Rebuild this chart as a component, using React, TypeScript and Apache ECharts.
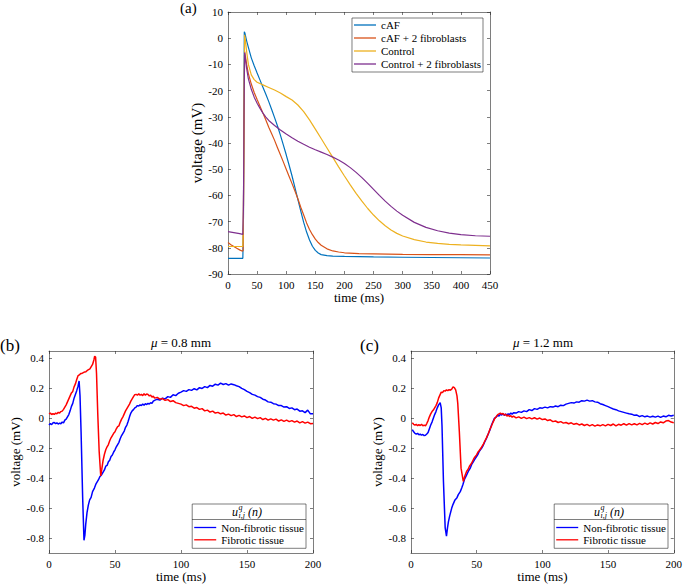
import React, { useEffect, useRef } from "react";
import * as echarts from "echarts";

const FONT = "Liberation Serif";
const AXC = "#262626";
const LEG_ICON = "path://M0,0 L22,0 L22,1.3 L0,1.3 Z";

// ---------- panel (a): action potentials ----------
const apNames = ["cAF", "cAF + 2 fibroblasts", "Control", "Control + 2 fibroblasts"];
const apColors = ["#0072BD", "#D95319", "#EDB120", "#7E2F8E"];

const cAF: [number, number][] = [
  [0, -84], [10, -84], [20, -84], [25.5, -84], [26.5, -70], [27.3, -30], [28, 2.5], [29, 2], [30, 1], [32, -1], [35, -3.5],
  [40, -7.5], [45, -10.5], [50, -13.3], [55, -16], [60, -18.7], [65, -21.4], [70, -24.2], [75, -27.2], [80, -30.3],
  [85, -33.5], [90, -37], [95, -40.7], [100, -44.5], [105, -48.5], [110, -52.6], [115, -57], [120, -61.5], [125, -66],
  [130, -70.3], [135, -74], [140, -77], [145, -79.4], [150, -81], [155, -82], [160, -82.6], [170, -83], [180, -83.2],
  [200, -83.3], [250, -83.5], [300, -83.6], [350, -83.7], [400, -83.8], [450, -83.9],
];
const cAF2fib: [number, number][] = [
  [0, -78], [5, -78.8], [10, -79.5], [15, -80.2], [20, -80.8], [25, -81.3], [26, -81], [27, -50], [28.5, -5], [30, -7],
  [32, -10], [35, -13.5], [40, -17.5], [45, -20.7], [50, -23.4], [55, -26], [60, -28.6], [65, -31.2], [70, -34],
  [75, -36.5], [80, -39], [85, -41.8], [90, -44.5], [95, -47.2], [100, -50], [105, -52.8], [110, -55.5], [115, -58.3],
  [120, -61.3], [125, -64.5], [130, -67.5], [135, -70.5], [140, -73], [145, -75], [150, -76.7], [155, -78], [160, -79],
  [170, -80.4], [180, -81.2], [190, -81.6], [200, -81.9], [225, -82.2], [250, -82.3], [300, -82.5], [350, -82.6],
  [400, -82.6], [450, -82.7],
];
const control: [number, number][] = [
  [0, -79.5], [10, -79.5], [20, -79.5], [25.5, -79.5], [26.5, -70], [27.5, -30], [28.5, 1.3], [30, -1], [32, -5],
  [35, -10], [40, -14], [45, -15.8], [50, -16.8], [60, -17.8], [70, -18.8], [80, -19.8], [90, -20.9], [100, -22.3],
  [110, -23.6], [120, -25.5], [130, -28], [140, -31.2], [150, -34.7], [160, -38.3], [170, -41.9], [180, -45.5],
  [190, -49.1], [200, -52.6], [210, -56], [220, -59.2], [230, -62.2], [240, -65], [250, -67.5], [260, -69.7],
  [270, -71.6], [280, -73.2], [290, -74.5], [300, -75.5], [320, -76.9], [340, -77.8], [360, -78.3], [380, -78.7],
  [400, -78.9], [425, -79.1], [450, -79.3],
];
const control2fib: [number, number][] = [
  [0, -73.8], [10, -74.2], [20, -74.6], [25.5, -74.9], [26.5, -65], [27.5, -30], [28.5, -5.5], [30, -8], [32, -11.5],
  [35, -15.5], [40, -19.5], [45, -22.5], [50, -24.8], [55, -26.8], [60, -28.6], [65, -30.1], [70, -31.4], [80, -33.3],
  [90, -35], [100, -36.6], [110, -38], [120, -39.3], [130, -40.5], [140, -41.6], [150, -42.6], [160, -43.5],
  [170, -44.4], [180, -45.4], [190, -46.5], [200, -47.8], [210, -49.4], [220, -51.2], [230, -53.2], [240, -55.4],
  [250, -57.7], [260, -60], [270, -62.2], [280, -64.2], [290, -66], [300, -67.6], [320, -70.3], [340, -72.2],
  [360, -73.5], [380, -74.4], [400, -75], [425, -75.4], [450, -75.6],
];
const apSeries = [cAF, cAF2fib, control, control2fib];

// ---------- panels (b), (c): electrograms ----------
const egNames = ["Non-fibrotic tissue", "Fibrotic tissue"];
const egColors = ["#0000FF", "#FF0000"];
const yTicksEG = [-0.8, -0.6, -0.4, -0.2, 0, 0.2, 0.4];

const bNonFib: [number, number][] = [
  [0, -0.045], [1, -0.035], [2, -0.042], [3, -0.03], [4, -0.028], [5, -0.036], [6, -0.03], [7, -0.038], [8, -0.032],
  [9, -0.036], [10, -0.025], [11, -0.03], [12, -0.012], [13, -0.005], [14, 0.01], [15, 0.025], [16, 0.05], [17, 0.08],
  [18, 0.1], [19, 0.135], [20, 0.16], [21, 0.185], [22, 0.215], [22.8, 0.25], [23.5, 0.15], [24.3, -0.09],
  [25.5, -0.53], [26.5, -0.815], [27.2, -0.78], [27.8, -0.71], [28.8, -0.63], [29.8, -0.58], [30.8, -0.545],
  [31.9, -0.528], [33, -0.49], [34.4, -0.466], [35.5, -0.44], [36.5, -0.425], [37.5, -0.41], [38.5, -0.39],
  [39.9, -0.377], [41, -0.36], [42, -0.345], [43, -0.32], [44, -0.315], [45, -0.29], [46, -0.28], [47, -0.255],
  [48, -0.245], [49, -0.225], [50, -0.21], [51, -0.19], [52, -0.175], [53, -0.16], [54, -0.135], [55, -0.115],
  [56, -0.1], [57, -0.085], [58, -0.06], [59, -0.045], [60, -0.02], [61, 0.01], [62, 0.035], [63, 0.05], [64, 0.058],
  [65, 0.07], [66, 0.075], [67, 0.085], [68, 0.082], [69, 0.09], [70, 0.085], [71, 0.095], [72, 0.088], [73, 0.098],
  [74, 0.092], [75, 0.1], [76, 0.095], [77, 0.105], [78, 0.1], [79, 0.115], [80, 0.12], [82, 0.128], [84, 0.122],
  [86, 0.135], [88, 0.13], [90, 0.145], [92, 0.14], [94, 0.158], [96, 0.152], [98, 0.168], [100, 0.175], [102, 0.185],
  [104, 0.18], [106, 0.192], [108, 0.187], [110, 0.198], [112, 0.19], [114, 0.205], [116, 0.2], [118, 0.212],
  [120, 0.205], [122, 0.22], [124, 0.215], [126, 0.228], [128, 0.222], [130, 0.235], [132, 0.226], [134, 0.232],
  [136, 0.222], [138, 0.23], [140, 0.225], [142, 0.218], [144, 0.212], [146, 0.2], [148, 0.192], [150, 0.18],
  [152, 0.172], [154, 0.16], [156, 0.155], [158, 0.145], [160, 0.14], [162, 0.128], [164, 0.122], [166, 0.11],
  [168, 0.108], [170, 0.098], [172, 0.095], [174, 0.085], [176, 0.085], [178, 0.075], [180, 0.078], [182, 0.066],
  [184, 0.07], [186, 0.058], [188, 0.062], [190, 0.048], [192, 0.05], [194, 0.038], [196, 0.055], [198, 0.03],
  [200, 0.03],
];
const bFib: [number, number][] = [
  [0, 0.03], [1, 0.035], [2, 0.025], [3, 0.032], [4, 0.026], [5, 0.035], [6, 0.03], [7, 0.04], [8, 0.035], [9, 0.045],
  [10, 0.048], [11, 0.06], [12, 0.075], [13, 0.09], [14, 0.11], [15, 0.13], [16, 0.15], [17, 0.17], [18, 0.18],
  [19, 0.21], [20, 0.23], [21, 0.26], [22, 0.285], [23, 0.29], [24, 0.3], [25, 0.3], [26, 0.305], [27, 0.31],
  [28, 0.312], [29, 0.32], [30, 0.325], [31, 0.33], [32, 0.345], [33, 0.36], [34, 0.39], [34.6, 0.415], [35.3, 0.41],
  [36, 0.3], [36.9, 0.04], [38, -0.22], [39.2, -0.385], [40, -0.34], [41, -0.28], [42, -0.24], [43, -0.21],
  [44, -0.19], [45, -0.175], [46, -0.15], [47, -0.13], [48, -0.115], [49, -0.1], [50, -0.09], [51, -0.07],
  [52, -0.055], [53, -0.05], [54, -0.025], [55, -0.005], [56, 0.01], [57, 0.03], [58, 0.05], [59, 0.065], [60, 0.08],
  [61, 0.095], [62, 0.115], [63, 0.13], [64, 0.145], [65, 0.158], [66, 0.16], [67, 0.155], [68, 0.165], [69, 0.155],
  [70, 0.16], [71, 0.152], [72, 0.165], [73, 0.155], [74, 0.163], [75, 0.16], [76, 0.15], [77, 0.155], [78, 0.142],
  [79, 0.148], [80, 0.135], [82, 0.14], [84, 0.128], [86, 0.132], [88, 0.12], [90, 0.125], [92, 0.112], [94, 0.118],
  [96, 0.105], [98, 0.1], [100, 0.095], [102, 0.085], [104, 0.09], [106, 0.078], [108, 0.08], [110, 0.068],
  [112, 0.072], [114, 0.06], [116, 0.065], [118, 0.05], [120, 0.055], [122, 0.042], [124, 0.048], [126, 0.035],
  [128, 0.04], [130, 0.03], [132, 0.035], [134, 0.022], [136, 0.028], [138, 0.018], [140, 0.025], [142, 0.012],
  [144, 0.02], [146, 0.01], [148, 0.016], [150, 0.005], [152, 0.012], [154, 0.0], [156, 0.008], [158, -0.002],
  [160, 0.005], [162, -0.008], [164, 0.0], [166, -0.012], [168, -0.004], [170, -0.012], [172, -0.005], [174, -0.018],
  [176, -0.01], [178, -0.02], [180, -0.012], [182, -0.022], [184, -0.015], [186, -0.025], [188, -0.018], [190, -0.03],
  [192, -0.022], [194, -0.032], [196, -0.025], [198, -0.036], [200, -0.034],
];
const cNonFib: [number, number][] = [
  [1, -0.075], [2, -0.09], [3, -0.1], [4, -0.105], [5, -0.1], [6, -0.11], [7, -0.105], [8, -0.112], [9, -0.108],
  [10, -0.115], [11, -0.113], [12, -0.105], [13, -0.095], [14, -0.07], [15, -0.045], [16, -0.025], [17, 0.0],
  [18, 0.025], [19, 0.045], [20, 0.07], [21, 0.09], [22.2, 0.105], [23, 0.07], [23.6, -0.05], [24.7, -0.42],
  [26, -0.73], [27, -0.787], [27.8, -0.73], [28.5, -0.69], [29.5, -0.65], [31, -0.6], [32, -0.575], [33.5, -0.545],
  [35, -0.53], [36, -0.51], [37.5, -0.49], [38.6, -0.466], [39.6, -0.44], [40.6, -0.41], [42, -0.385], [43.6, -0.355],
  [45, -0.335], [46.1, -0.31], [47.5, -0.29], [48.5, -0.275], [49.9, -0.255], [51, -0.24], [52, -0.22], [53.7, -0.2],
  [55, -0.18], [56, -0.16], [57.5, -0.133], [59, -0.1], [60, -0.08], [61.3, -0.045], [62.5, -0.02], [63.5, 0.0],
  [65, 0.01], [66, 0.02], [67, 0.015], [68, 0.028], [69, 0.022], [70, 0.03], [71, 0.02], [72, 0.028], [73, 0.02],
  [74, 0.03], [75, 0.025], [76, 0.035], [77, 0.028], [78, 0.038], [80, 0.035], [82, 0.045], [84, 0.04], [86, 0.05],
  [88, 0.045], [90, 0.058], [92, 0.052], [94, 0.065], [96, 0.06], [98, 0.07], [100, 0.068], [102, 0.075], [104, 0.07],
  [106, 0.078], [108, 0.075], [110, 0.082], [112, 0.078], [114, 0.088], [116, 0.085], [118, 0.095], [120, 0.1],
  [122, 0.105], [124, 0.102], [126, 0.11], [128, 0.108], [130, 0.118], [132, 0.115], [134, 0.122], [136, 0.115],
  [138, 0.118], [140, 0.11], [142, 0.108], [144, 0.098], [146, 0.092], [148, 0.085], [150, 0.078], [152, 0.07],
  [154, 0.062], [156, 0.058], [158, 0.05], [160, 0.045], [162, 0.04], [164, 0.035], [166, 0.03], [168, 0.028],
  [170, 0.02], [172, 0.022], [174, 0.012], [176, 0.018], [178, 0.01], [180, 0.015], [182, 0.008], [184, 0.014],
  [186, 0.008], [188, 0.015], [190, 0.006], [192, 0.015], [194, 0.01], [196, 0.02], [198, 0.015], [200, 0.02],
];
const cFib: [number, number][] = [
  [1, -0.03], [2, -0.04], [3, -0.045], [4, -0.04], [5, -0.05], [6, -0.042], [7, -0.048], [8, -0.04], [9, -0.05],
  [10, -0.045], [11, -0.05], [12, -0.035], [13, -0.015], [14, 0.01], [15, 0.03], [16, 0.045], [17, 0.055], [18, 0.07],
  [19, 0.085], [20, 0.105], [21, 0.135], [22, 0.155], [23, 0.175], [24, 0.172], [25, 0.185], [26, 0.182], [27, 0.19],
  [28, 0.185], [29, 0.192], [30, 0.188], [31, 0.195], [32, 0.21], [33, 0.205], [34, 0.19], [35, 0.15], [35.6, 0.1],
  [36.8, -0.09], [38.1, -0.333], [39.8, -0.422], [41, -0.385], [42.3, -0.355], [43.5, -0.34], [44.5, -0.32],
  [46.1, -0.3], [47.5, -0.275], [48.5, -0.26], [49.9, -0.244], [51, -0.225], [52, -0.215], [53.7, -0.193],
  [55, -0.175], [56, -0.155], [57.5, -0.129], [59, -0.1], [60, -0.075], [61.3, -0.05], [62.5, -0.025], [63.5, -0.005],
  [65, 0.012], [66, 0.025], [67, 0.03], [68, 0.035], [69, 0.028], [70, 0.033], [71, 0.022], [72, 0.028], [73, 0.015],
  [74, 0.022], [75, 0.012], [76, 0.018], [77, 0.008], [78, 0.015], [80, 0.003], [82, 0.01], [84, 0.0], [86, 0.008],
  [88, -0.002], [90, 0.005], [92, -0.004], [94, 0.004], [96, -0.005], [98, 0.002], [100, -0.008], [102, -0.004],
  [104, -0.015], [106, -0.01], [108, -0.022], [110, -0.018], [112, -0.028], [114, -0.022], [116, -0.032],
  [118, -0.028], [120, -0.036], [122, -0.03], [124, -0.04], [126, -0.034], [128, -0.044], [130, -0.038],
  [132, -0.048], [134, -0.04], [136, -0.05], [138, -0.042], [140, -0.052], [142, -0.044], [144, -0.05], [146, -0.042],
  [148, -0.05], [150, -0.04], [152, -0.048], [154, -0.038], [156, -0.05], [158, -0.04], [160, -0.046], [162, -0.036],
  [164, -0.045], [166, -0.035], [168, -0.044], [170, -0.036], [172, -0.044], [174, -0.034], [176, -0.042],
  [178, -0.032], [180, -0.04], [182, -0.03], [184, -0.038], [186, -0.028], [188, -0.035], [190, -0.024], [192, -0.03],
  [194, -0.018], [196, -0.015], [198, -0.025], [200, -0.03],
];

const panelTitles = ["0.8", "1.2"];

const lineStyleAx = { color: AXC, width: 0.6 };

function xAxes(gridIndex: number, max: number) {
  const common = {
    gridIndex,
    type: "value",
    min: 0,
    max,
    interval: 50,
    axisLine: { show: true, onZero: false, lineStyle: lineStyleAx },
    axisTick: { show: true, inside: true, length: 3, lineStyle: lineStyleAx },
    splitLine: { show: false },
  };
  return [
    {
      ...common,
      position: "bottom",
      name: "time (ms)",
      nameLocation: "middle",
      nameGap: 16,
      nameTextStyle: { fontFamily: FONT, fontSize: 13, color: "#000" },
      axisLabel: { margin: 5, fontFamily: FONT, fontSize: 11, color: "#000" },
    },
    { ...common, position: "top", axisLabel: { show: false } },
  ];
}

function yAxes(gridIndex: number, kind: "ap" | "eg", nameGap: number, nameSize: number) {
  const base: any =
    kind === "ap"
      ? { min: -90, max: 10, interval: 10 }
      : { min: -0.9, max: 0.45 };
  const tickCustom = kind === "eg" ? { customValues: yTicksEG } : {};
  const common = {
    gridIndex,
    type: "value",
    ...base,
    axisLine: { show: true, onZero: false, lineStyle: lineStyleAx },
    axisTick: { show: true, inside: true, length: 3, lineStyle: lineStyleAx, ...tickCustom },
    splitLine: { show: false },
  };
  return [
    {
      ...common,
      position: "left",
      name: "voltage (mV)",
      nameLocation: "middle",
      nameGap,
      nameTextStyle: { fontFamily: FONT, fontSize: nameSize, color: "#000" },
      axisLabel: {
        margin: 5,
        fontFamily: FONT,
        fontSize: 11,
        color: "#000",
        ...tickCustom,
        formatter: (v: number) => (kind === "eg" ? (v === 0 ? "0" : v.toFixed(1)) : String(v)),
      },
    },
    { ...common, position: "right", axisLabel: { show: false } },
  ];
}

function legendTitle(cx: number, cy: number) {
  const x0 = cx - 17;
  const f = { fontFamily: FONT, fill: "#000", fontStyle: "italic" };
  return [
    { type: "text", z: 100, x: x0, y: cy, style: { ...f, text: "u", fontSize: 12, verticalAlign: "middle", textVerticalAlign: "middle" } },
    { type: "text", z: 100, x: x0 + 6.5, y: cy - 4.5, style: { ...f, text: "q", fontSize: 8, verticalAlign: "middle", textVerticalAlign: "middle" } },
    { type: "text", z: 100, x: x0 + 6.5, y: cy + 3.5, style: { ...f, text: "i,j", fontSize: 8, verticalAlign: "middle", textVerticalAlign: "middle" } },
    { type: "text", z: 100, x: x0 + 16, y: cy, style: { ...f, text: "(n)", fontSize: 12, verticalAlign: "middle", textVerticalAlign: "middle" } },
  ];
}

export default function App() {
  const ref = useRef<HTMLDivElement>(null);
  useEffect(() => {
    document.body.style.margin = "0";
    const chart = echarts.init(ref.current!, null, { renderer: "svg" });

    const grids = [
      { left: 228, top: 12, width: 262, height: 262 },
      { left: 49, top: 351, width: 264, height: 202 },
      { left: 411, top: 351, width: 264, height: 202 },
    ];

    const series: any[] = [];
    apSeries.forEach((d, i) => {
      series.push({
        type: "line",
        name: apNames[i],
        xAxisIndex: 0,
        yAxisIndex: 0,
        data: d,
        symbol: "none",
        lineStyle: { color: apColors[i], width: 1.2 },
        itemStyle: { color: apColors[i] },
        z: 2,
      });
    });
    [[bNonFib, bFib], [cNonFib, cFib]].forEach((pair, p) => {
      pair.forEach((d, i) => {
        series.push({
          type: "line",
          name: egNames[i],
          xAxisIndex: 2 + p * 2,
          yAxisIndex: 2 + p * 2,
          data: d,
          symbol: "none",
          lineStyle: { color: egColors[i], width: 1.5 },
          itemStyle: { color: egColors[i] },
          z: 2,
        });
      });
    });

    const legendCommon = {
      orient: "vertical",
      backgroundColor: "#fff",
      borderColor: AXC,
      borderWidth: 0.6,
      borderRadius: 0,
      itemWidth: 22,
      icon: LEG_ICON,
      textStyle: { fontFamily: FONT, fontSize: 11, color: "#000" },
      selectedMode: false,
      z: 10,
    };

    const legBRight = 306;
    const legCRight = 668;
    const legW = 114;

    const graphic: any[] = [
      { type: "text", z: 100, x: 180, y: 8, style: { text: "(a)", fontFamily: FONT, fontSize: 15, fill: "#000", verticalAlign: "middle", textVerticalAlign: "middle" } },
      { type: "text", z: 100, x: 0, y: 345, style: { text: "(b)", fontFamily: FONT, fontSize: 17, fill: "#000", verticalAlign: "middle", textVerticalAlign: "middle" } },
      { type: "text", z: 100, x: 360, y: 345, style: { text: "(c)", fontFamily: FONT, fontSize: 17, fill: "#000", verticalAlign: "middle", textVerticalAlign: "middle" } },
    ];
    [181, 543].forEach((cx, i) => {
      graphic.push({
        type: "text",
        z: 100,
        x: cx,
        y: 342,
        style: {
          text: "{i|μ} = " + panelTitles[i] + " mm",
          fontFamily: FONT,
          fontSize: 13,
          fill: "#000",
          align: "center",
          textAlign: "center",
          verticalAlign: "middle",
          textVerticalAlign: "middle",
          rich: { i: { fontStyle: "italic", fontFamily: FONT, fontSize: 13 } },
        },
      });
    });
    [legBRight, legCRight].forEach((r) => {
      const l = r - legW;
      graphic.push(...legendTitle((l + r) / 2, 511.5));
      graphic.push({
        type: "line",
        z: 100,
        shape: { x1: l, y1: 519.5, x2: r, y2: 519.5 },
        style: { stroke: AXC, lineWidth: 0.6 },
      });
    });

    const option: any = {
      animation: false,
      backgroundColor: "#fff",
      grid: grids,
      xAxis: [...xAxes(0, 450), ...xAxes(1, 200), ...xAxes(2, 200)],
      yAxis: [...yAxes(0, "ap", 20, 15), ...yAxes(1, "eg", 27, 13), ...yAxes(2, "eg", 27, 13)],
      legend: [
        {
          ...legendCommon,
          data: apNames,
          right: 685 - 483,
          top: 18,
          itemHeight: 11,
          itemGap: 2,
          padding: [1.5, 2, 2.5, 2],
        },
        {
          ...legendCommon,
          data: egNames,
          right: 685 - legBRight,
          top: 504,
          itemHeight: 10,
          itemGap: 1.3,
          padding: [18, 2, 3, 2],
        },
        {
          ...legendCommon,
          data: egNames,
          right: 685 - legCRight,
          top: 504,
          itemHeight: 10,
          itemGap: 1.3,
          padding: [18, 2, 3, 2],
        },
      ],
      series,
      graphic,
    };
    chart.setOption(option);
    return () => chart.dispose();
  }, []);
  return <div ref={ref} style={{ width: 685, height: 586 }} />;
}
